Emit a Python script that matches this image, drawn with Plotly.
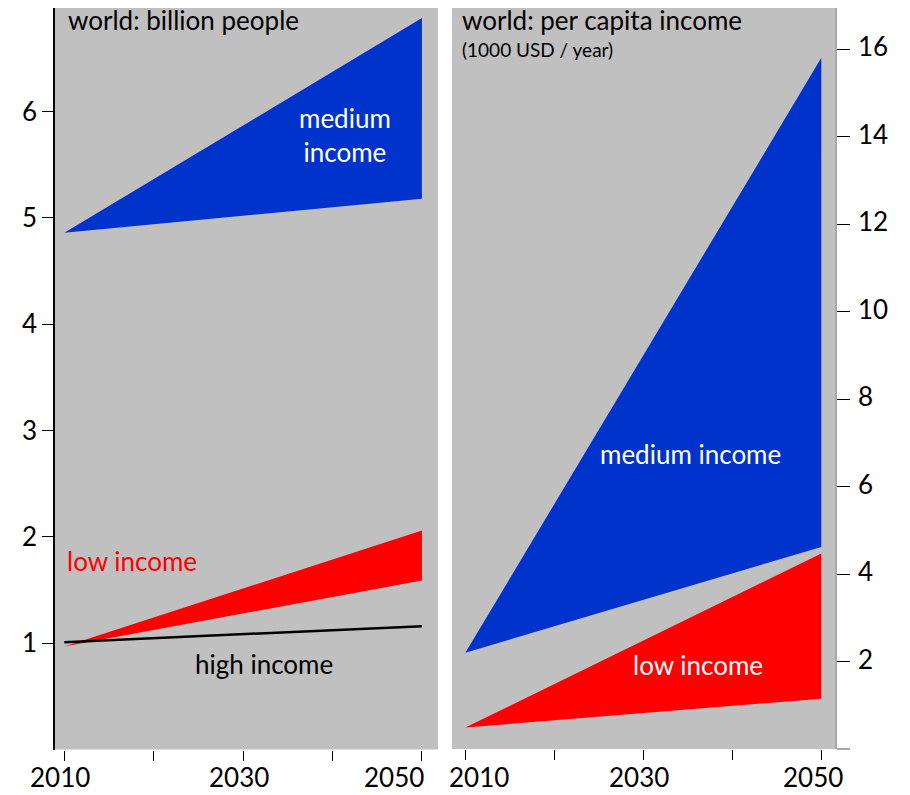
import plotly.graph_objects as go

# ---- data ----
years = [2010, 2050]

# left panel: world population, billion people
pop_medium_upper = [4.86, 6.88]
pop_medium_lower = [4.86, 5.18]
pop_low_upper = [0.97, 2.06]
pop_low_lower = [0.97, 1.59]
pop_high = [1.01, 1.16]

# right panel: per capita income, 1000 USD / year
inc_medium_upper = [2.20, 15.80]
inc_medium_lower = [2.20, 4.62]
inc_low_upper = [0.49, 4.47]
inc_low_lower = [0.49, 1.15]

x_tickvals = [2010, 2020, 2030, 2040, 2050]
x_label_years = [2010, 2030, 2050]
x_label_text = ["2010", "2030", "2050"]
left_yticks = [1, 2, 3, 4, 5, 6]
right_yticks = [2, 4, 6, 8, 10, 12, 14, 16]

BLUE = "#0033cc"
RED = "#ff0000"
GRAY = "#c0c0c0"
FONT = "Lato"

# the page body has an 8px margin: figure is drawn 8px smaller and shifted
W, H, OFF = 902, 787, 8


def px_x(p):
    return (p - OFF) / W


def px_y(p):
    return min(1.0, 1 - (p - OFF) / H)


def band(upper, lower):
    return years + years[::-1], upper + lower[::-1]


fig = go.Figure()

for (up, lo, col, xa, ya) in [
    (pop_medium_upper, pop_medium_lower, BLUE, "x", "y"),
    (pop_low_upper, pop_low_lower, RED, "x", "y"),
    (inc_medium_upper, inc_medium_lower, BLUE, "x2", "y2"),
    (inc_low_upper, inc_low_lower, RED, "x2", "y2"),
]:
    bx, by = band(up, lo)
    fig.add_trace(go.Scatter(x=bx, y=by, fill="toself", fillcolor=col,
                             mode="lines", line=dict(width=0, color=col),
                             xaxis=xa, yaxis=ya, showlegend=False,
                             hoverinfo="skip"))

fig.add_trace(go.Scatter(x=years, y=pop_high, mode="lines",
                         line=dict(color="black", width=2.5),
                         xaxis="x", yaxis="y", showlegend=False))

tickfont = dict(family=FONT, size=26, color="black")

fig.update_layout(
    width=W, height=H,
    margin=dict(l=0, r=0, t=0, b=0),
    paper_bgcolor="white",
    plot_bgcolor=GRAY,
    font=dict(family=FONT, color="black"),
    xaxis=dict(domain=[px_x(55), px_x(438)], range=[2008.96, 2051.8],
               tickvals=x_tickvals, showticklabels=False, ticks="outside",
               ticklen=10, tickcolor="black", tickwidth=1,
               showgrid=False, zeroline=False, showline=False,
               anchor="y", automargin=False),
    yaxis=dict(domain=[px_y(749.5), px_y(7)], range=[0, 6.975],
               tickvals=left_yticks, ticks="outside", ticklen=11,
               tickcolor="black", showgrid=False, zeroline=False,
               showline=True, linecolor="black", linewidth=1.5,
               tickfont=tickfont, anchor="x", automargin=False),
    xaxis2=dict(domain=[px_x(452), px_x(835)], range=[2008.5, 2051.54],
                tickvals=x_tickvals, showticklabels=False, ticks="outside",
                ticklen=10, tickcolor="black", tickwidth=1,
                showgrid=False, zeroline=False, showline=False,
                anchor="y2", automargin=False),
    yaxis2=dict(domain=[px_y(749), px_y(7)], range=[0, 16.94],
                tickvals=right_yticks, showticklabels=False, ticks="outside",
                ticklen=13, tickcolor="black", side="right", showgrid=False,
                zeroline=False, showline=True, linecolor="#a8a8a8",
                linewidth=2, anchor="x2",
                minor=dict(tickvals=[0], ticks="outside", ticklen=13,
                           tickcolor="#a8a8a8", tickwidth=2, showgrid=False),
                automargin=False),
)

ann = [
    dict(text="world: billion people", x=2010.3, y=6.86, xref="x", yref="y",
         xanchor="left", yanchor="middle", font=dict(size=26, color="black")),
    dict(text="medium<br>income", x=2041.45, y=5.78, xref="x", yref="y",
         xanchor="center", yanchor="middle", font=dict(size=26, color="white")),
    dict(text="low income", x=2010.2, y=1.77, xref="x", yref="y",
         xanchor="left", yanchor="middle", font=dict(size=26, color=RED)),
    dict(text="high income", x=2032.3, y=0.80, xref="x", yref="y",
         xanchor="center", yanchor="middle", font=dict(size=26, color="black")),
    dict(text="world: per capita income", x=2009.5, y=16.67, xref="x2", yref="y2",
         xanchor="left", yanchor="middle", font=dict(size=26, color="black")),
    dict(text="(1000 USD / year)", x=2009.5, y=16.0, xref="x2", yref="y2",
         xanchor="left", yanchor="middle", font=dict(size=19, color="black")),
    dict(text="medium income", x=2035.25, y=6.75, xref="x2", yref="y2",
         xanchor="center", yanchor="middle", font=dict(size=26, color="white")),
    dict(text="low income", x=2036.1, y=1.92, xref="x2", yref="y2",
         xanchor="center", yanchor="middle", font=dict(size=26, color="white")),
]

# year labels under both panels (placed like the reference's tick labels)
label_y = px_y(777)
left_place = [("center", -4), ("center", -4), ("right", 3)]
right_place = [("left", -17), ("center", -4), ("center", -8)]
for xref, places in [("x", left_place), ("x2", right_place)]:
    for yr, txt, (anchor, shift) in zip(x_label_years, x_label_text, places):
        ann.append(dict(text=txt, x=yr, y=label_y, xref=xref, yref="paper",
                        xanchor=anchor, yanchor="middle", xshift=shift,
                        font=dict(size=26, color="black")))

# right-hand value labels (income axis)
for v in right_yticks:
    ann.append(dict(text=str(v), x=px_x(857), y=v, xref="paper", yref="y2",
                    xanchor="left", yanchor="middle", yshift=3,
                    font=dict(size=26, color="black")))

for a in ann:
    a["showarrow"] = False
    a["borderpad"] = 0
    a["font"]["family"] = FONT
    fig.add_annotation(**a)

fig.write_html("out.html")
